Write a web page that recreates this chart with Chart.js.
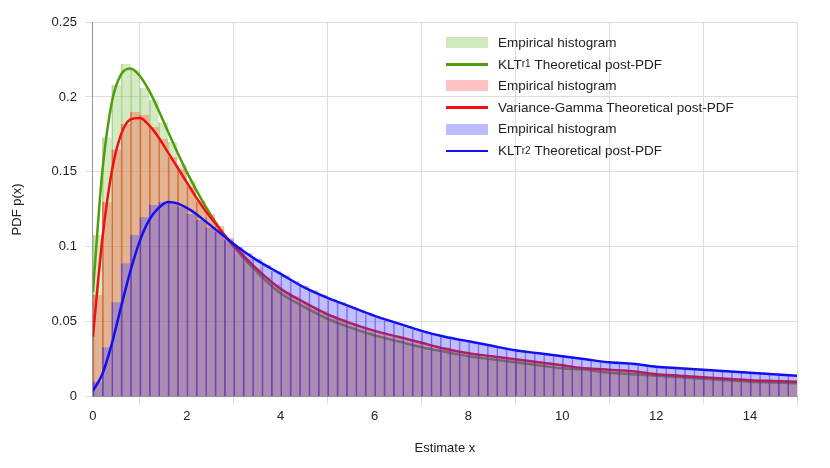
<!DOCTYPE html>
<html>
<head>
<meta charset="utf-8">
<script src="https://cdn.jsdelivr.net/npm/chart.js@4"></script>
<style>
  body { margin: 0; background: #fff; font-family: "Liberation Sans", Arial, sans-serif; }
  #wrap { position: relative; width: 830px; height: 468px; }
  #legend { position: absolute; left: 446px; top: 32px; font-size: 13.5px; color: #222; line-height: 21.6px; }
  #legend div { display: flex; align-items: center; }
  #legend span.sw { display: inline-block; width: 42px; margin-right: 10px; }
  #legend sub { font-size: 10px; vertical-align: -4px; line-height: 0; }
</style>
</head>
<body>
<div id="wrap">
  <canvas id="myChart" width="830" height="468"></canvas>
  <div id="legend">
    <div><span class="sw" style="height:11px;background:rgba(130,195,80,0.38)"></span>Empirical histogram</div>
    <div><span class="sw" style="height:2.5px;background:#4f9d0a"></span>KLT<sub>r1</sub>&nbsp;Theoretical post-PDF</div>
    <div><span class="sw" style="height:11px;background:rgba(255,80,80,0.35)"></span>Empirical histogram</div>
    <div><span class="sw" style="height:2.5px;background:#f01010"></span>Variance-Gamma Theoretical post-PDF</div>
    <div><span class="sw" style="height:11px;background:rgba(80,80,255,0.38)"></span>Empirical histogram</div>
    <div><span class="sw" style="height:2.5px;background:#1010f0"></span>KLT<sub>r2</sub>&nbsp;Theoretical post-PDF</div>
  </div>
</div>
<script>
    // Histogram bin centres (width 0.2) from 0.1 to 14.9
    const binCenters = [];
    for (let i = 0; i < 75; i++) binCenters.push(+(0.1 + i * 0.2).toFixed(1));

    const histKltR1 = [.108,.173,.208,.222,.218,.206,.198,.183,.170,.155,.144,.131,.120,.112,.104,
        .095,.089,.083,.077,.072,.068,.064,.061,.058,.055,.052,.050,.047,.045,.043,
        .041,.039,.038,.036,.035,.033,.032,.031,.029,.028,.027,.026,.025,.024,.024,
        .023,.022,.021,.020,.019,.019,.018,.017,.017,.016,.016,.015,.015,.014,.014,
        .013,.013,.012,.012,.012,.011,.011,.011,.010,.010,.010,.010,.009,.009,.009];
    const histVG = [.068,.130,.165,.182,.190,.188,.180,.172,.160,.152,.140,.130,.122,.114,.106,
        .098,.092,.086,.080,.075,.070,.067,.063,.060,.057,.054,.052,.049,.047,.045,
        .043,.041,.040,.038,.037,.035,.034,.033,.031,.030,.029,.028,.027,.026,.025,
        .025,.024,.023,.022,.021,.021,.020,.019,.019,.018,.018,.017,.017,.016,.016,
        .015,.015,.014,.014,.013,.013,.013,.012,.012,.011,.011,.011,.010,.010,.010];
    const histKltR2 = [.010,.033,.063,.089,.108,.120,.128,.130,.130,.127,.122,.118,.113,.110,.105,
        .100,.096,.092,.088,.084,.081,.077,.074,.071,.068,.065,.063,.060,.058,.055,
        .053,.051,.049,.047,.045,.043,.042,.040,.039,.038,.036,.035,.034,.033,.032,
        .031,.030,.029,.028,.027,.027,.026,.025,.024,.024,.023,.023,.022,.021,.021,
        .020,.020,.019,.019,.018,.018,.017,.017,.017,.016,.016,.016,.015,.015,.014];

    // Theoretical curves sampled at these x values
    const curveX = [0,0.2,0.4,0.6,0.8,1,1.2,1.4,1.6,1.8,2,2.2,2.4,2.6,2.8,3,
        3.5,4,4.5,5,5.5,6,6.5,7,7.5,8,8.5,9,9.5,10,10.5,11,11.5,12,12.5,13,13.5,14,14.5,15];
    const pdfKltR1 = [.070,.150,.196,.215,.219,.214,.204,.191,.177,.163,.150,.138,.127,.117,.108,.100,
        .083,.069,.060,.052,.046,.041,.037,.033,.030,.027,.025,.023,.021,.019,.018,.016,.015,.014,.013,.012,.011,.010,.0095,.009];
    const pdfVG = [.040,.105,.150,.175,.185,.186,.181,.173,.163,.153,.143,.133,.124,.116,.108,.101,
        .085,.072,.063,.055,.049,.044,.040,.036,.032,.029,.027,.025,.023,.021,.019,.018,.017,.015,.014,.013,.012,.011,.0105,.010];
    const pdfKltR2 = [.004,.015,.035,.060,.084,.104,.118,.126,.130,.129,.126,.122,.117,.112,.107,.102,
        .091,.082,.073,.066,.060,.054,.049,.044,.040,.037,.034,.031,.029,.027,.025,.023,.022,.020,.019,.018,.017,.016,.015,.014];

    const xTicks = [0, 2, 4, 6, 8, 10, 12, 14];

    const toPts = (xs, ys) => xs.map((x, i) => ({ x: x, y: ys[i] }));

    function histDataset(vals, fill, edge, order) {
        return {
            type: 'bar', data: toPts(binCenters, vals), backgroundColor: fill,
            borderColor: edge, borderWidth: { left: 1, right: 0, top: 0, bottom: 0 },
            barPercentage: 1, categoryPercentage: 1, grouped: false, order: order
        };
    }
    function lineDataset(vals, color, order) {
        return {
            type: 'line', data: toPts(curveX, vals), borderColor: color, borderWidth: 2.5,
            pointRadius: 0, tension: 0.4, cubicInterpolationMode: 'monotone', fill: false, order: order
        };
    }

    const ctx = document.getElementById('myChart').getContext('2d');
    const chart = new Chart(ctx, {
        type: 'bar',
        data: {
            datasets: [
                histDataset(histKltR1, 'rgba(130,195,80,0.35)', 'rgba(110,180,60,0.5)', 6),
                lineDataset(pdfKltR1, '#4f9d0a', 5),
                histDataset(histVG, 'rgba(255,70,50,0.33)', 'rgba(230,60,30,0.6)', 4),
                lineDataset(pdfVG, '#f01010', 3),
                histDataset(histKltR2, 'rgba(60,60,255,0.33)', 'rgba(70,40,230,0.6)', 2),
                lineDataset(pdfKltR2, '#1010f0', 1)
            ]
        },
        options: {
            responsive: false,
            animation: false,
            layout: { padding: { left: 6, right: 33, top: 22, bottom: 8 } },
            plugins: { legend: { display: false }, tooltip: { enabled: false } },
            scales: {
                x: {
                    type: 'linear', min: 0, max: 15, offset: false,
                    afterBuildTicks: (axis) => { axis.ticks = xTicks.map(v => ({ value: v })); },
                    grid: { color: '#dddddd', tickLength: 8 },
                    border: { color: '#999' },
                    ticks: { color: '#222', font: { size: 13, family: 'Liberation Sans' }, padding: 4 },
                    title: { display: true, text: 'Estimate x', color: '#222', font: { size: 13, family: 'Liberation Sans' }, padding: { top: 12 } }
                },
                y: {
                    min: 0, max: 0.25,
                    grid: { color: '#dddddd', tickLength: 8 },
                    border: { color: '#999' },
                    ticks: { stepSize: 0.05, color: '#222', font: { size: 13, family: 'Liberation Sans' }, padding: 8,
                        callback: v => +v.toFixed(2) + '' },
                    title: { display: true, text: 'PDF p(x)', color: '#222', font: { size: 13, family: 'Liberation Sans' }, padding: { bottom: 18 } }
                }
            }
        }
    });
</script>
</body>
</html>
